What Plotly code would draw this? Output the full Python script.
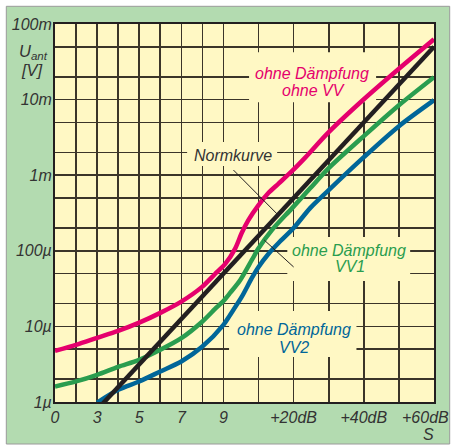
import plotly.graph_objects as go

# x: level in dB relative to S9 (left part: S-units of 6 dB); y: antenna voltage in V
pink_x = [-48, -42, -36, -30, -24, -18, -12, -6, -2.4, 0.5, 3.3, 5.2, 7.1, 10.0, 12.8, 15.7, 19.5, 23.3, 30, 40, 50, 60]
pink_y = [4.74e-6, 5.70e-6, 7.05e-6, 8.72e-6, 1.12e-5, 1.51e-5, 2.13e-5, 3.36e-5, 4.93e-5, 6.70e-5, 1.06e-4,
          1.72e-4, 2.55e-4, 4.03e-4, 5.80e-4, 7.74e-4, 1.13e-3, 1.71e-3, 3.71e-3, 1.01e-2, 2.56e-2, 6.28e-2]

green_x = [-48, -42, -36, -30, -24, -18, -12, -6, -2.4, 0, 1.9, 4.8, 8.1, 10.0, 13.8, 19.5, 24.7, 30, 40, 50, 60]
green_y = [1.60e-6, 1.87e-6, 2.29e-6, 2.92e-6, 3.61e-6, 4.90e-6, 6.98e-6, 1.16e-5, 1.70e-5, 2.17e-5, 2.77e-5,
           4.11e-5, 7.56e-5, 1.08e-4, 1.88e-4, 3.64e-4, 6.70e-4, 1.24e-3, 3.29e-3, 8.43e-3, 1.98e-2]

blue_x = [-36, -30, -24, -18, -12, -6, 0, 1.9, 5.2, 8.1, 10.0, 12.8, 15.7, 20, 24.7, 30, 40, 50, 60]
blue_y = [0.98e-6, 1.45e-6, 1.87e-6, 2.53e-6, 3.43e-6, 5.41e-6, 1.05e-5, 1.42e-5, 2.45e-5, 4.37e-5, 6.11e-5,
          9.08e-5, 1.27e-4, 2.00e-4, 3.67e-4, 6.35e-4, 1.73e-3, 4.45e-3, 9.82e-3]

norm_x = [-36, 60]
norm_y = [7.9e-7, 5.0e-2]

norm_leader_x = [2.85, 15.6]
norm_leader_y = [1.17e-3, 2.97e-4]
vv1_leader_x = [11.6, 20.0]
vv1_leader_y = [1.39e-4, 6.11e-5]

x_ticks = [-48, -36, -24, -12, 0, 20, 40]
x_labels = ["0", "3", "5", "7", "9", "+20dB", "+40dB"]
x_minor = [-42, -30, -18, -6, 10, 30, 50, 60]
y_ticks = [1e-6, 1e-5, 1e-4, 1e-3, 1e-2, 1e-1]
y_labels = ["1µ", "10µ", "100µ", "1m", "10m", "100m"]
y_minor = [2e-6, 5e-6, 2e-5, 5e-5, 2e-4, 5e-4, 2e-3, 5e-3, 2e-2, 5e-2]

PINK = "#e5006d"
GREEN = "#2a9d4f"
BLUE = "#006699"
BLACK = "#231f20"
GRID = "#3b3529"
TXT = "#333333"
FONT = "Liberation Sans, Arial, sans-serif"

fig = go.Figure()
for xs, ys, col in [(pink_x, pink_y, PINK), (green_x, green_y, GREEN), (blue_x, blue_y, BLUE)]:
    fig.add_trace(go.Scatter(x=xs, y=ys, mode="lines", line=dict(color=col, width=4.5, shape="spline", smoothing=0.8),
                             hoverinfo="skip"))
fig.add_trace(go.Scatter(x=norm_x, y=norm_y, mode="lines", line=dict(color=BLACK, width=4.5), hoverinfo="skip"))
for xs, ys in [(norm_leader_x, norm_leader_y), (vv1_leader_x, vv1_leader_y)]:
    fig.add_trace(go.Scatter(x=xs, y=ys, mode="lines", line=dict(color=BLACK, width=1), hoverinfo="skip"))

BG = "#fff8c4"
# label background boxes (between grid and curves)
boxes = [(7.3, 43.5, 9.25e-3, 4.23e-2), (-10.35, 15.3, 1.32e-3, 2.74e-3),
         (18.2, 53.2, 3.99e-5, 1.52e-4), (1.6, 37.9, 3.95e-6, 1.60e-5)]
shapes = []
for x0, x1, y0, y1 in boxes:
    shapes.append(dict(type="rect", xref="x", yref="y", x0=x0, x1=x1, y0=y0, y1=y1,
                       fillcolor=BG, line=dict(width=0), layer="between"))

# outer white margin + thin gray frame (paper coords)
def px(v):
    return (v - 55) / 379.0
def py(v):
    return (402 - v) / 378.0
for a, b, c, d in [(0, 6.3, 0, 445), (449.7, 454, 0, 445), (0, 454, 0, 6.3), (0, 454, 444, 445)]:
    shapes.append(dict(type="rect", xref="paper", yref="paper", x0=px(a), x1=px(b), y0=py(d), y1=py(c),
                       fillcolor="white", line=dict(width=0), layer="below"))
shapes.append(dict(type="rect", xref="paper", yref="paper", x0=px(6.3), x1=px(449.7), y0=py(444), y1=py(6.3),
                   fillcolor="rgba(0,0,0,0)", line=dict(color="#9a9a9a", width=1), layer="below"))

ann = []
def lab(text, x, ylog, color, size=16):
    ann.append(dict(text=text, x=x, y=ylog, xref="x", yref="y", showarrow=False,
                    font=dict(family=FONT, size=size, color=color, style="italic"),
                    xanchor="center", yanchor="middle"))
lab("ohne Dämpfung", 25.3, -1.651, PINK)
lab("ohne VV", 25.6, -1.876, PINK)
lab("Normkurve", 2.77, -2.734, TXT)
lab("ohne Dämpfung", 35.8, -3.993, GREEN)
lab("VV1", 36.05, -4.214, GREEN)
lab("ohne Dämpfung", 20.1, -5.037, BLUE)
lab("VV2", 20.1, -5.284, BLUE)

def plab(text, x, y, size=16):
    ann.append(dict(text=text, x=px(x), y=py(y), xref="paper", yref="paper", showarrow=False,
                    font=dict(family=FONT, size=size, color=TXT, style="italic"),
                    xanchor="center", yanchor="middle"))
plab("U<sub>ant</sub>", 33, 52, 16.5)
plab("[V]", 32, 70, 16.5)
plab("+60dB", 425, 417)
plab("S", 428.7, 435)

fig.update_layout(
    width=454, height=445,
    margin=dict(l=55, r=20, t=24, b=43, pad=0),
    paper_bgcolor="#b3dbb0",
    plot_bgcolor=BG,
    showlegend=False,
    shapes=shapes,
    annotations=ann,
    xaxis=dict(range=[-48, 60], tickmode="array", tickvals=x_ticks, ticktext=x_labels,
               showgrid=True, gridcolor=GRID, gridwidth=1.6, zeroline=False,
               minor=dict(tickmode="array", tickvals=x_minor, showgrid=True, gridcolor=GRID, gridwidth=1.6, ticks=""),
               showline=True, linecolor=BLACK, linewidth=2, mirror=True, ticks="",
               tickfont=dict(family=FONT, size=16, color=TXT, style="italic")),
    yaxis=dict(type="log", range=[-6, -1], tickmode="array", tickvals=y_ticks, ticktext=y_labels,
               showgrid=True, gridcolor=GRID, gridwidth=1.6, zeroline=False,
               minor=dict(tickmode="array", tickvals=y_minor, showgrid=True, gridcolor=GRID, gridwidth=1.6, ticks=""),
               showline=True, linecolor=BLACK, linewidth=2, mirror=True, ticks="",
               ticklabelstandoff=-2,
               tickfont=dict(family=FONT, size=16, color=TXT, style="italic")),
)
fig.write_html("out.html", config={"displayModeBar": False, "staticPlot": True},
               post_script="document.body.style.margin='0';document.body.style.overflow='hidden';")
